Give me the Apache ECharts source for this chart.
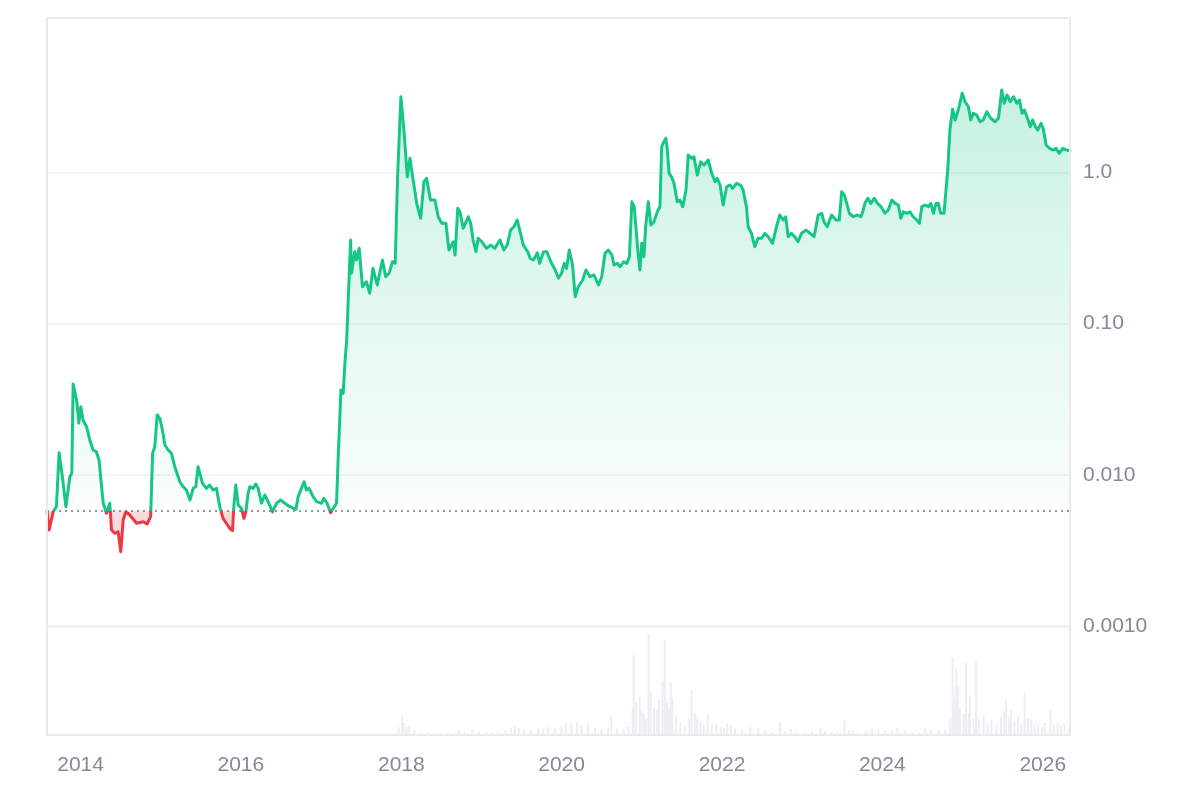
<!DOCTYPE html>
<html>
<head>
<meta charset="utf-8">
<script src="https://cdn.jsdelivr.net/npm/echarts@6/dist/echarts.min.js"></script>
<style>
html,body{margin:0;padding:0;background:#fff;}
#chart{width:1200px;height:800px;}
</style>
</head>
<body>
<div id="chart"></div>
<script>
const baselinePrice = 0.00576;

const priceDates = [
'2013-08-01','2013-08-11','2013-08-29','2013-09-13','2013-09-25','2013-10-11','2013-10-26','2013-11-13','2013-11-22','2013-11-28',
'2013-12-14','2013-12-24','2014-01-02','2014-01-12','2014-01-28','2014-02-12','2014-02-27','2014-03-14','2014-03-26','2014-04-14',
'2014-04-29','2014-05-14','2014-05-22','2014-06-06','2014-06-21','2014-07-03','2014-07-14','2014-07-26','2014-08-13','2014-09-13',
'2014-10-13','2014-10-31','2014-11-16','2014-11-25','2014-12-05','2014-12-16','2014-12-28','2015-01-09','2015-01-20','2015-02-04',
'2015-02-19','2015-03-06','2015-03-16','2015-03-29','2015-04-13','2015-04-28','2015-05-14','2015-05-29','2015-06-10','2015-06-20',
'2015-06-28','2015-07-10','2015-07-28','2015-08-12','2015-08-27','2015-09-12','2015-09-27','2015-10-12','2015-10-27','2015-11-11',
'2015-11-24','2015-11-30','2015-12-09','2015-12-20','2016-01-04','2016-01-15','2016-01-24','2016-02-03','2016-02-11','2016-02-26',
'2016-03-09','2016-03-20','2016-04-04','2016-04-19','2016-05-04','2016-05-24','2016-06-12','2016-06-30','2016-07-19','2016-08-11',
'2016-09-08','2016-09-18','2016-10-03','2016-10-15','2016-10-26','2016-11-07','2016-11-25','2016-12-11','2017-01-03','2017-01-13',
'2017-01-28','2017-02-13','2017-02-25','2017-03-12','2017-03-19','2017-04-01','2017-04-11','2017-04-19','2017-04-27','2017-05-15',
'2017-05-19','2017-06-03','2017-06-11','2017-06-23','2017-07-08','2017-07-26','2017-08-10','2017-08-25','2017-09-13','2017-10-07',
'2017-10-22','2017-11-06','2017-11-22','2017-12-04','2017-12-15','2017-12-30','2018-01-14','2018-01-28','2018-02-09','2018-02-24',
'2018-03-12','2018-03-30','2018-04-14','2018-04-26','2018-05-14','2018-06-03','2018-06-18','2018-07-04','2018-07-23','2018-08-06',
'2018-08-26','2018-09-03','2018-09-15','2018-09-25','2018-10-10','2018-11-02','2018-11-13','2018-11-24','2018-12-07','2018-12-17',
'2019-01-02','2019-01-24','2019-02-12','2019-03-03','2019-03-26','2019-04-13','2019-04-28','2019-05-14','2019-05-29','2019-06-13',
'2019-06-26','2019-07-11','2019-07-31','2019-08-11','2019-08-26','2019-09-13','2019-09-23','2019-10-11','2019-10-26','2019-11-13',
'2019-12-03','2019-12-18','2020-01-01','2020-01-13','2020-01-24','2020-02-05','2020-02-20','2020-03-03','2020-03-17','2020-04-06',
'2020-04-21','2020-05-09','2020-05-28','2020-06-17','2020-07-02','2020-07-17','2020-08-01','2020-08-17','2020-08-27','2020-09-11',
'2020-09-24','2020-10-09','2020-10-24','2020-11-05','2020-11-16','2020-11-27','2020-12-05','2020-12-13','2020-12-23','2020-12-31',
'2021-01-10','2021-01-18','2021-01-30','2021-02-11','2021-02-25','2021-03-12','2021-03-24','2021-04-01','2021-04-11','2021-04-20',
'2021-04-26','2021-05-05','2021-05-16','2021-05-27','2021-06-11','2021-06-23','2021-07-06','2021-07-21','2021-07-31','2021-08-16',
'2021-08-26','2021-09-10','2021-09-26','2021-10-11','2021-10-30','2021-11-15','2021-11-30','2021-12-10','2021-12-23','2022-01-06',
'2022-01-22','2022-02-06','2022-02-18','2022-03-08','2022-03-26','2022-04-07','2022-04-22','2022-04-30','2022-05-15','2022-05-30',
'2022-06-14','2022-06-30','2022-07-15','2022-07-30','2022-08-19','2022-09-06','2022-09-21','2022-10-06','2022-10-18','2022-10-29',
'2022-11-13','2022-11-28','2022-12-13','2022-12-29','2023-01-19','2023-02-06','2023-02-24','2023-03-15','2023-03-31','2023-04-10',
'2023-04-25','2023-05-15','2023-06-04','2023-06-19','2023-06-30','2023-07-12','2023-07-23','2023-08-04','2023-08-22','2023-09-09',
'2023-09-25','2023-10-04','2023-10-14','2023-10-27','2023-11-10','2023-11-25','2023-12-10','2023-12-26','2024-01-13','2024-01-28',
'2024-02-13','2024-02-28','2024-03-14','2024-03-25','2024-04-06','2024-04-21','2024-05-06','2024-05-21','2024-06-06','2024-06-18',
'2024-06-29','2024-07-14','2024-07-29','2024-08-09','2024-08-21','2024-09-02','2024-09-12','2024-09-23','2024-10-08','2024-10-17',
'2024-10-25','2024-11-04','2024-11-16','2024-11-28','2024-12-12','2024-12-30','2025-01-12','2025-01-27','2025-02-07','2025-02-19',
'2025-03-06','2025-03-21','2025-04-05','2025-04-21','2025-05-09','2025-05-29','2025-06-13','2025-06-28','2025-07-09','2025-07-22',
'2025-08-06','2025-08-21','2025-09-05','2025-09-17','2025-09-28','2025-10-09','2025-10-21','2025-11-05','2025-11-16','2025-11-28',
'2025-12-09','2025-12-24','2026-01-03','2026-01-16','2026-01-31','2026-02-18','2026-03-02','2026-03-17','2026-04-02','2026-04-20',
'2026-05-05'
];

const priceValues = [
0.00576,0.00431,0.00570,0.00615,0.01398,0.00947,0.00615,0.00971,0.01022,0.0398,
0.0312,0.02198,0.02818,0.0230,0.02078,0.01698,0.01458,0.01420,0.01252,0.00648,
0.00556,0.00648,0.00431,0.00410,0.00420,0.00310,0.00502,0.00570,0.00542,0.00478,
0.00489,0.00473,0.00528,0.01386,0.01533,0.02483,0.0236,0.01976,0.01573,0.01458,
0.01386,0.01130,0.01022,0.00899,0.00834,0.00793,0.00681,0.00813,0.00834,0.01130,
0.01142,0.00878,0.00813,0.00856,0.00793,0.00813,0.00615,0.00515,0.00478,0.00443,
0.00427,0.00615,0.00856,0.00631,0.00600,0.00515,0.00570,0.00754,0.00834,0.00813,
0.00869,0.00813,0.00648,0.00735,0.00664,0.00570,0.00648,0.00681,0.00648,0.00615,
0.00591,0.00716,0.00813,0.00899,0.00793,0.00813,0.00716,0.00664,0.00648,0.00699,
0.00648,0.00561,0.00600,0.00648,0.01252,0.0363,0.03456,0.0546,0.0778,0.3565,
0.2147,0.2983,0.2630,0.3142,0.1751,0.1889,0.1584,0.2317,0.1797,0.2630,
0.2039,0.2147,0.2562,0.2500,0.934,3.16,1.81,0.934,1.236,0.889,
0.623,0.496,0.866,0.912,0.655,0.655,0.508,0.460,0.460,0.306,
0.3474,0.2838,0.578,0.548,0.426,0.508,0.460,0.3565,0.2983,0.366,
0.3474,0.3142,0.330,0.3142,0.3565,0.306,0.330,0.415,0.4365,0.4834,
0.4045,0.330,0.2983,0.2698,0.2630,0.2938,0.2500,0.2983,0.2983,0.2562,
0.2258,0.1990,0.2147,0.2500,0.2317,0.306,0.2436,0.1504,0.1751,0.1939,
0.2258,0.2039,0.2093,0.1797,0.2039,0.2911,0.306,0.2838,0.2436,0.2500,
0.2374,0.2562,0.2500,0.2764,0.6386,0.5920,0.6076,0.306,0.2258,0.3391,
0.2764,0.4365,0.6386,0.448,0.471,0.548,0.592,1.475,1.592,1.677,
1.440,0.984,0.934,0.845,0.6386,0.655,0.592,0.763,1.300,1.236,
1.267,0.959,1.174,1.117,1.205,0.984,0.866,0.912,0.8234,0.6076,
0.8025,0.8234,0.783,0.845,0.8234,0.763,0.592,0.4365,0.3947,0.322,
0.366,0.366,0.3947,0.375,0.339,0.4365,0.5218,0.4834,0.508,0.375,
0.3947,0.375,0.3474,0.3947,0.415,0.3947,0.375,0.5218,0.5354,0.471,
0.4365,0.5218,0.4834,0.4834,0.7437,0.707,0.623,0.5354,0.508,0.5218,
0.508,0.548,0.623,0.6726,0.623,0.6726,0.623,0.592,0.5354,0.5628,
0.655,0.623,0.6076,0.496,0.548,0.5354,0.548,0.508,0.4834,0.460,
0.592,0.6076,0.592,0.623,0.5354,0.623,0.623,0.5354,0.5354,0.5218,
1.035,1.903,2.608,2.215,2.580,3.327,2.927,2.713,2.215,2.454,
2.391,2.159,2.215,2.514,2.274,2.159,2.274,3.499,2.857,3.242,
2.927,3.159,2.857,3.004,2.454,2.580,2.330,2.001,2.215,2.001,
1.903,2.107,1.953,1.514,1.440,1.403,1.440,1.335,1.440,1.403,
1.388
];

const volumeDates = [
'2017-12-01','2017-12-20','2018-01-05','2018-01-12','2018-01-25','2018-02-06','2018-03-01','2018-04-01','2018-05-01','2018-06-01',
'2018-07-01','2018-08-01','2018-09-01','2018-09-21','2018-10-15','2018-11-20','2018-12-20','2019-01-20','2019-02-20','2019-03-20',
'2019-04-20','2019-05-15','2019-06-01','2019-06-20','2019-07-15','2019-08-15','2019-09-15','2019-10-10','2019-11-01','2019-12-01',
'2020-01-01','2020-01-20','2020-02-15','2020-03-12','2020-04-01','2020-05-01','2020-06-01','2020-07-01','2020-08-01','2020-08-15',
'2020-09-10','2020-10-10','2020-11-01','2020-11-20','2020-11-24','2020-12-05','2020-12-22','2020-12-30','2021-01-10','2021-01-20',
'2021-01-31','2021-02-10','2021-02-25','2021-03-10','2021-03-20','2021-04-05','2021-04-15','2021-04-25','2021-05-05','2021-05-12',
'2021-05-20','2021-06-05','2021-06-25','2021-07-15','2021-08-05','2021-08-15','2021-08-30','2021-09-10','2021-09-25','2021-10-10',
'2021-10-28','2021-11-15','2021-12-05','2021-12-25','2022-01-10','2022-01-25','2022-02-10','2022-03-01','2022-04-01','2022-05-10',
'2022-06-15','2022-07-15','2022-08-15','2022-09-22','2022-10-15','2022-11-10','2022-12-10','2023-01-15','2023-02-15','2023-03-25',
'2023-04-15','2023-05-15','2023-06-10','2023-07-13','2023-08-01','2023-08-20','2023-09-15','2023-10-20','2023-11-15','2023-12-15',
'2024-01-15','2024-02-15','2024-03-10','2024-04-15','2024-05-15','2024-06-15','2024-07-15','2024-08-10','2024-09-15','2024-10-15',
'2024-11-05','2024-11-16','2024-11-25','2024-12-03','2024-12-10','2024-12-20','2025-01-05','2025-01-16','2025-01-28','2025-02-03',
'2025-02-20','2025-03-03','2025-03-15','2025-04-07','2025-04-25','2025-05-12','2025-06-05','2025-06-25','2025-07-10','2025-07-18',
'2025-08-01','2025-08-10','2025-08-25','2025-09-10','2025-09-25','2025-10-10','2025-10-25','2025-11-10','2025-11-25','2025-12-10',
'2025-12-28','2026-01-10','2026-02-05','2026-02-20','2026-03-10','2026-03-25','2026-04-10','2026-04-28'
];

const volumeValues = [
0.6,3.0,6.8,4.5,3.0,3.6,1.5,1.2,1.0,0.8,
0.7,0.9,1.0,2.0,1.0,1.8,1.2,1.0,1.1,1.2,
1.5,2.6,3.4,2.6,2.0,1.8,2.4,2.6,3.0,2.4,
3.2,4.5,4.0,4.8,3.5,3.8,2.6,2.0,3.0,6.8,
2.5,2.2,3.0,10,29.6,12,14.2,9,8,6,
37.6,16,10,9,13,20,35.2,12,10,19.7,
14,7.5,4.5,3.2,6,16.7,8,6.8,4.5,4.0,
7.4,4.3,4.3,3.0,2.6,4.3,3.5,2.5,2.0,3.0,
2.4,1.6,1.4,4.9,1.6,2.2,1.2,1.2,1.4,2.6,
1.6,1.2,1.0,5.6,2.0,1.6,1.0,1.6,2.4,1.8,
1.4,1.6,2.8,1.8,1.0,1.2,2.4,2.0,1.8,2.0,
6,28.5,14,25,18.1,10,8,26.8,8,14.2,
6,27.1,6,7.5,4.5,5.5,3.5,6.8,9,13,
7,9.3,5,6.8,4,15.5,6,5.6,4,3.5,
3,4.5,9.3,4,4.3,3.5,4.3,3.0
];

const yearLabels = ['2014','2016','2018','2020','2022','2024','2026'];
const priceTickValues = [0.001, 0.01, 0.1, 1];
const priceTickLabels = ['0.0010', '0.010', '0.10', '1.0'];

const GREEN = '#16c784';
const RED = '#ea3943';
const LABEL_COLOR = '#808a9d';
const GRID_COLOR = '#eef0f3';
const FONT = '"Liberation Sans", Arial, sans-serif';

function toTime(s) {
  const p = s.split('-').map(Number);
  return new Date(p[0], p[1] - 1, p[2]).getTime();
}

const priceData = priceDates.map((d, i) => [toTime(d), priceValues[i]]);
const volumeData = volumeDates.map((d, i) => [toTime(d), volumeValues[i]]);
const xMin = toTime(priceDates[0]);
const xMax = toTime(priceDates[priceDates.length - 1]);
const yearTicks = yearLabels.map(y => new Date(+y, 0, 1).getTime());
const baselineData = [[xMin, baselinePrice], [xMax, baselinePrice]];

const chart = echarts.init(document.getElementById('chart'), null, { renderer: 'canvas' });

const gTop = 18, gBottomPrice = 626;
const baseStop = 0.8108;

chart.setOption({
  animation: false,
  backgroundColor: '#ffffff',
  grid: [
    { left: 47, right: 130, top: 18, height: 608 },
    { left: 47, right: 130, top: 627, height: 108 }
  ],
  xAxis: [
    {
      type: 'value', gridIndex: 0, min: xMin, max: xMax, scale: true,
      axisLine: { show: false }, axisTick: { show: false },
      axisLabel: { show: false }, splitLine: { show: false }
    },
    {
      type: 'value', gridIndex: 1, min: xMin, max: xMax, scale: true,
      axisLine: { show: false }, axisTick: { show: false }, splitLine: { show: false },
      axisLabel: {
        show: true,
        customValues: yearTicks,
        formatter: v => {
          const i = yearTicks.findIndex(t => Math.abs(t - v) < 86400000);
          return i >= 0 ? yearLabels[i] : '';
        },
        color: LABEL_COLOR, fontSize: 21, fontFamily: FONT, margin: 20
      }
    }
  ],
  yAxis: [
    {
      type: 'log', logBase: 10, gridIndex: 0, position: 'right',
      min: 0.001, max: 10.47,
      axisLine: { show: false }, axisTick: { show: false },
      axisLabel: {
        color: LABEL_COLOR, fontSize: 21, fontFamily: FONT, margin: 13,
        formatter: v => {
          for (let i = 0; i < priceTickValues.length; i++) {
            if (Math.abs(Math.log10(v) - Math.log10(priceTickValues[i])) < 1e-6) return priceTickLabels[i];
          }
          return '';
        }
      },
      splitLine: {
        show: true, showMaxLine: false,
        lineStyle: { color: [GRID_COLOR, GRID_COLOR, GRID_COLOR, GRID_COLOR, 'rgba(0,0,0,0)', 'rgba(0,0,0,0)'], width: 1.5 }
      }
    },
    {
      type: 'value', gridIndex: 1, min: 0, max: 40, show: false,
      splitLine: { show: false }
    }
  ],
  visualMap: {
    type: 'piecewise', show: false, seriesIndex: 0, dimension: 1,
    pieces: [
      { gte: 0.0001, lt: baselinePrice, color: RED },
      { gte: baselinePrice, lte: 100, color: GREEN }
    ],
    outOfRange: { color: GREEN }
  },
  graphic: [
    {
      type: 'rect', silent: true, z: 100,
      shape: { x: 47, y: 18, width: 1023, height: 717 },
      style: { fill: 'none', stroke: '#e8eaed', lineWidth: 2 }
    },
    {
      type: 'line', silent: true, z: 100,
      shape: { x1: 47, y1: 626.5, x2: 1070, y2: 626.5 },
      style: { stroke: '#eceef1', lineWidth: 2 }
    }
  ],
  series: [
    {
      type: 'line', xAxisIndex: 0, yAxisIndex: 0, z: 3,
      data: priceData,
      showSymbol: false, symbol: 'none', smooth: false,
      lineStyle: { width: 3, join: 'round', cap: 'round' },
      areaStyle: {
        origin: baselinePrice,
        color: {
          type: 'linear', x: 0, y: gTop, x2: 0, y2: gBottomPrice, global: true,
          colorStops: [
            { offset: 0, color: 'rgba(22,199,132,0.42)' },
            { offset: 0.3, color: 'rgba(22,199,132,0.25)' },
            { offset: baseStop - 0.0005, color: 'rgba(22,199,132,0.03)' },
            { offset: baseStop, color: 'rgba(234,57,67,0.26)' },
            { offset: 1, color: 'rgba(234,57,67,0.26)' }
          ]
        }
      }
    },
    {
      type: 'line', xAxisIndex: 0, yAxisIndex: 0, z: 4,
      data: baselineData,
      showSymbol: false, symbol: 'none', silent: true,
      lineStyle: { type: [2, 4], color: '#70757d', width: 1.5 }
    },
    {
      type: 'bar', xAxisIndex: 1, yAxisIndex: 1, z: 1,
      data: volumeData,
      barWidth: 2,
      itemStyle: { color: '#eceef2' }
    }
  ]
});
</script>
</body>
</html>
